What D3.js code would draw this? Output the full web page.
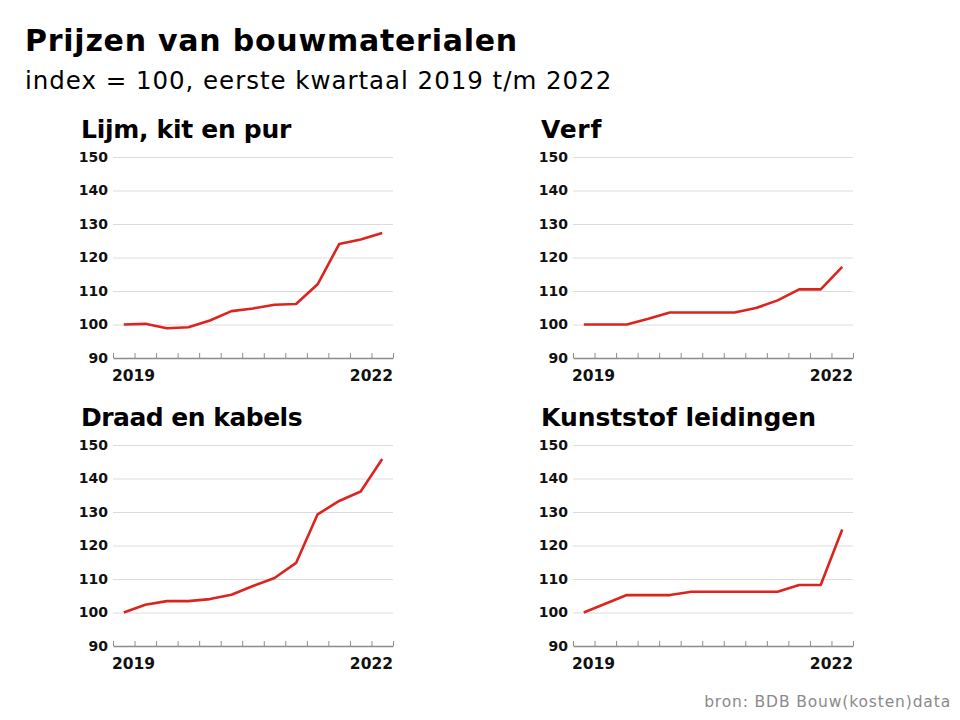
<!DOCTYPE html>
<html>
<head>
<meta charset="utf-8">
<script src="https://cdn.jsdelivr.net/npm/d3@7"></script>
<style>
  html, body { margin: 0; padding: 0; background: #fff; }
  svg { display: block; font-family: "DejaVu Sans", sans-serif; }
</style>
</head>
<body>
<svg id="chart" width="960" height="720"></svg>
<script>
// ─── Data ─────────────────────────────────────────────────────────────────────

const QUARTERS = [
  "2019-K1", "2019-K2", "2019-K3", "2019-K4",
  "2020-K1", "2020-K2", "2020-K3", "2020-K4",
  "2021-K1", "2021-K2", "2021-K3", "2021-K4",
  "2022-K1",
];

const PANEL_TITLES = ["Lijm, kit en pur", "Verf", "Draad en kabels", "Kunststof leidingen"];

const LIJM      = [100, 100.2, 98.9, 99.2, 101.2, 104, 104.8, 105.9, 106.1, 112, 124, 125.4, 127.3];
const VERF      = [100, 100, 100, 101.7, 103.6, 103.6, 103.6, 103.6, 104.9, 107.2, 110.5, 110.5, 117.2];
const DRAAD     = [100, 102.3, 103.4, 103.4, 104, 105.3, 107.9, 110.3, 114.8, 129.3, 133.3, 136.1, 145.8];
const KUNSTSTOF = [100, 102.6, 105.2, 105.2, 105.2, 106.2, 106.2, 106.2, 106.2, 106.2, 108.2, 108.2, 124.8];

const Y_TICKS   = [90, 100, 110, 120, 130, 140, 150];
const YEAR_TEXT = ["2019", "2022"];

// ─── Layout ───────────────────────────────────────────────────────────────────

const RED  = "#dc241f";
const GRID = "#dcdcdc";
const PANEL_W = 280;
const PANEL_H = 201;
const ORIGINS = [[113, 157], [573, 157], [113, 445], [573, 445]];
const TITLE_W = [210, 61, 221, 275];   // measured widths of the panel titles

// stretch letter-spacing so a text spans the width it has in the original
function fitWidth(node, target) {
  const w = node.getComputedTextLength();
  const n = node.textContent.length;
  d3.select(node).attr("letter-spacing", ((target - w) / n).toFixed(2));
}

const svg = d3.select("#chart");

const title = svg.append("text")
  .attr("x", 25).attr("y", 51)
  .attr("font-size", 30).attr("font-weight", 700)
  .text("Prijzen van bouwmaterialen");
fitWidth(title.node(), 493);

const sub = svg.append("text")
  .attr("x", 25).attr("y", 89)
  .attr("font-size", 24.5)
  .text("index = 100, eerste kwartaal 2019 t/m 2022");
fitWidth(sub.node(), 587);

const src = svg.append("text")
  .attr("x", 951).attr("y", 707)
  .attr("text-anchor", "end")
  .attr("font-size", 15.5).attr("fill", "#8a8a8a")
  .text("bron: BDB Bouw(kosten)data");
fitWidth(src.node(), 247);

// ─── Panels ───────────────────────────────────────────────────────────────────

[LIJM, VERF, DRAAD, KUNSTSTOF].forEach((series, i) => {
  const [x0, y0] = ORIGINS[i];
  const g = svg.append("g").attr("transform", `translate(${x0},${y0})`);

  const x = d3.scaleBand().domain(QUARTERS).range([0, PANEL_W]).padding(0);
  const y = d3.scaleLinear().domain([90, 150]).range([PANEL_H, 0]);

  // panel title
  const t = g.append("text")
    .attr("x", -32).attr("y", -19)
    .attr("font-size", 25).attr("font-weight", 700)
    .text(PANEL_TITLES[i]);
  fitWidth(t.node(), TITLE_W[i]);

  // gridlines + y labels
  const yAxis = g.append("g")
    .call(d3.axisLeft(y).tickValues(Y_TICKS).tickSize(-PANEL_W).tickPadding(5));
  yAxis.select(".domain").remove();
  yAxis.selectAll(".tick line")
    .attr("stroke", GRID)
    .attr("stroke-width", 1)
    .attr("display", d => d === 90 ? "none" : null);
  yAxis.selectAll(".tick text")
    .attr("font-size", 14).attr("font-weight", 700)
    .attr("fill", "#111")
    .attr("font-family", "'DejaVu Sans', sans-serif");

  // bottom axis: ticks at quarter boundaries, pointing up
  const edges = QUARTERS.map(q => x(q)).concat([x.range()[1]]);
  const xEdge = d3.scaleLinear().domain([0, PANEL_W]).range([0, PANEL_W]);
  const xAxis = g.append("g")
    .attr("transform", `translate(0,${y(90)})`)
    .call(d3.axisBottom(xEdge).tickValues(edges).tickSize(-5).tickSizeOuter(0).tickFormat(""));
  xAxis.select(".domain").attr("stroke", "#8c8c8c").attr("stroke-width", 1.5);
  xAxis.selectAll(".tick line").attr("stroke", "#8c8c8c").attr("stroke-width", 1);

  // year labels at the ends of the axis
  g.selectAll(".year")
    .data(YEAR_TEXT)
    .join("text")
    .attr("class", "year")
    .attr("x", (d, j) => j === 0 ? x(QUARTERS[0]) - 1 : x.range()[1])
    .attr("y", y(90) + 23)
    .attr("text-anchor", (d, j) => j === 0 ? "start" : "end")
    .attr("font-size", 15.5).attr("font-weight", 700)
    .attr("fill", "#111")
    .text(d => d);

  // line
  const line = d3.line()
    .x((d, j) => x(QUARTERS[j]) + x.bandwidth() / 2)
    .y(d => y(d));

  g.append("path")
    .datum(series)
    .attr("d", line)
    .attr("fill", "none")
    .attr("stroke", RED)
    .attr("stroke-width", 2.6)
    .attr("stroke-linejoin", "round");
});
</script>
</body>
</html>
